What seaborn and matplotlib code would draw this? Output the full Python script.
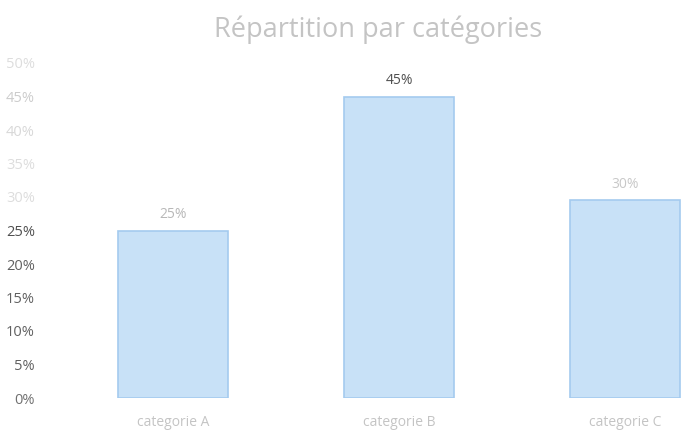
import matplotlib
matplotlib.use("Agg")
import matplotlib.pyplot as plt
import seaborn as sns
import pandas as pd

categories = ["categorie A", "categorie B", "categorie C"]
values = [0.25, 0.45, 0.295]
value_labels = ["25%", "45%", "30%"]
tick_values = [0.0, 0.05, 0.10, 0.15, 0.20, 0.25, 0.30, 0.35, 0.40, 0.45, 0.50]
tick_labels = ["0%", "5%", "10%", "15%", "20%", "25%", "30%", "35%", "40%", "45%", "50%"]
tick_colors = ["#707070", "#606060", "#606060", "#606060", "#606060", "#505050",
               "#dddddd", "#dddddd", "#d8d8d8", "#cccccc", "#dddddd"]

sns.set_theme(style="white")
plt.rcParams["font.family"] = ["Open Sans", "DejaVu Sans"]

df = pd.DataFrame({"categorie": categories, "valeur": values})

fig = plt.figure(figsize=(6.82, 4.32), dpi=100)
ax = fig.add_axes([60 / 682, 34 / 432, 678 / 682, 335 / 432])

sns.barplot(data=df, x="categorie", y="valeur", ax=ax, color="#c8e1f7",
            width=0.49, edgecolor="#a4cbef", linewidth=1.2, saturation=1)

ax.set_xlim(-0.5, 2.5)
ax.set_ylim(0, 0.5)
ax.set_yticks(tick_values)
ax.set_yticklabels(tick_labels, fontsize=10.5)
for lab, c in zip(ax.get_yticklabels(), tick_colors):
    lab.set_color(c)
ax.tick_params(axis="y", length=0, pad=18)
ax.tick_params(axis="x", length=0, pad=12, labelsize=10, labelcolor="#c4c4c4")
ax.set_xlabel("")
ax.set_ylabel("")
for s in ax.spines.values():
    s.set_visible(False)

label_colors = ["#b8b8b8", "#505050", "#c8c8c8"]
for i, (v, t) in enumerate(zip(values, value_labels)):
    ax.text(i, v + 0.013, t, ha="center", va="bottom", fontsize=10, color=label_colors[i])

fig.text(378 / 682, 1 - 30 / 432, "Répartition par catégories", ha="center", va="center",
         fontsize=19.5, color="#c4c4c4")

fig.savefig("out.png", dpi=100)
